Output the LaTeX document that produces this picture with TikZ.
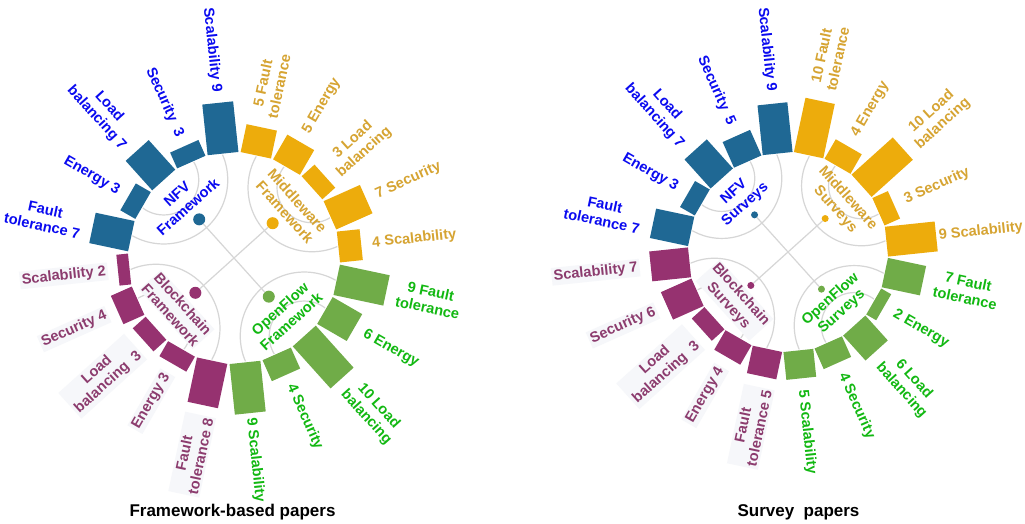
\documentclass[tikz,border=0pt]{standalone}
\usepackage{fontspec}
\setmainfont{Liberation Sans}
\definecolor{nfvbar}{RGB}{31,104,148}
\definecolor{nfvtxt}{RGB}{10,10,240}
\definecolor{mwbar}{RGB}{237,172,12}
\definecolor{mwtxt}{RGB}{214,164,50}
\definecolor{ofbar}{RGB}{112,172,72}
\definecolor{oftxt}{RGB}{18,184,18}
\definecolor{bcbar}{RGB}{150,50,112}
\definecolor{bctxt}{RGB}{140,60,110}
\definecolor{bcbg}{RGB}{246,247,250}
\definecolor{linegray}{RGB}{214,214,214}
\tikzset{
  lbl/.style={font=\bfseries\fontsize{14.6}{16.8}\selectfont, align=center, inner sep=1pt},
  nfvlbl/.style={}, mwlbl/.style={}, oflbl/.style={}, bclbl/.style={fill=bcbg, inner sep=2pt},
  grp/.style={font=\bfseries\fontsize{14.6}{16.8}\selectfont, align=center, inner sep=1pt},
  nfvgrp/.style={}, mwgrp/.style={}, ofgrp/.style={}, bcgrp/.style={fill=bcbg},
  gline/.style={draw=linegray, line width=1.2pt},
  centdot/.style={circle, inner sep=0pt, draw=none},
  captxt/.style={font=\bfseries\fontsize{17}{20}\selectfont, text=black, inner sep=0pt}
}
% #1 gap adjust, #2 name, #3 angle, #4 value, #5 group key, #6 side L/R, #7 text
\newcommand\mybar[7][0]{%
  \pgfmathsetmacro\myrout{\myrin+\myunit*#4+0.5}%
  \pgfmathsetmacro\myrlab{\myrout+\mygap+#1}%
  \fill[#5bar, rotate=#3] (\myrin,-\mybw/2) rectangle (\myrout,\mybw/2);%
  \if#6L%
    \node[lbl, text=#5txt, #5lbl, anchor=east, rotate=#3+180] (#2) at (#3:\myrlab) {#7};%
  \else%
    \node[lbl, text=#5txt, #5lbl, anchor=west, rotate=#3] (#2) at (#3:\myrlab) {#7};%
  \fi}
% #1 name prefix, #2 group key, #3 mid angle, #4 rotation, #5 text
\newcommand\mygroup[5]{%
  \node[centdot, fill=#2bar, minimum size=\mydotsize] (#1-dot) at (#3:\mydotr) {};%
  \node[grp, text=#2txt, #2grp, rotate=#4] (#1-name) at (#3:\mynamer) {#5};}
\begin{document}
\begin{tikzpicture}[x=1pt,y=1pt]
\useasboundingbox (0,0) rectangle (1025,523);
\fill[white] (0,0) rectangle (1025,523);
% ---------------- left chart ----------------
\begin{scope}[shift={(234,265)}]
  \def\myrin{105}\def\myunit{5.6}\def\mybw{31}\def\mygap{10}
  \def\mydotr{52}\def\mynamer{77}\def\mydotsize{12pt}
  \begin{scope}
    \clip (0,0) circle (104pt);
    \foreach \a in {132,222,312,42} {
      \draw[gline] (\a:105) circle (64pt);
      \draw[gline] (\a:105) circle (35pt);
    }
  \end{scope}
  \mybar{L-nfv-1}{96}{9}{nfv}{L}{Scalability 9}
  \mybar{L-nfv-2}{114}{3}{nfv}{L}{Security~~3}
  \mybar{L-nfv-3}{132}{7}{nfv}{L}{Load\\balancing 7}
  \mybar{L-nfv-4}{150}{3}{nfv}{L}{Energy 3}
  \mybar{L-nfv-5}{168}{7}{nfv}{L}{Fault\\tolerance 7}
  \mybar{L-bc-1}{186}{2}{bc}{L}{Scalability 2}
  \mybar{L-bc-2}{204}{4}{bc}{L}{Security 4}
  \mybar{L-bc-3}{222}{3}{bc}{L}{Load\\balancing~~3}
  \mybar{L-bc-4}{240}{3}{bc}{L}{Energy 3}
  \mybar{L-bc-5}{258}{8}{bc}{L}{Fault\\tolerance 8}
  \mybar[-6]{L-of-1}{-84}{9}{of}{R}{9 Scalability}
  \mybar{L-of-2}{-66}{4}{of}{R}{4 Security}
  \mybar{L-of-3}{-48}{10}{of}{R}{10 Load\\balancing}
  \mybar{L-of-4}{-30}{6}{of}{R}{6 Energy}
  \mybar{L-of-5}{-12}{9}{of}{R}{9 Fault\\tolerance}
  \mybar{L-mw-1}{6}{4}{mw}{R}{4 Scalability}
  \mybar{L-mw-2}{24}{7}{mw}{R}{7 Security}
  \mybar{L-mw-3}{42}{3}{mw}{R}{3 Load\\balancing}
  \mybar{L-mw-4}{60}{5}{mw}{R}{5 Energy}
  \mybar{L-mw-5}{78}{5}{mw}{R}{5 Fault\\tolerance}
  \mygroup{L-nfv}{nfv}{132}{42}{NFV\\Framework}
  \mygroup{L-mw}{mw}{42}{-48}{Middleware\\Framework}
  \mygroup{L-bc}{bc}{222}{-48}{Blockchain\\Framework}
  \mygroup{L-of}{of}{312}{42}{OpenFlow\\Framework}
  \draw[gline] (L-nfv-dot) -- (L-of-dot);
  \draw[gline] (L-mw-dot) -- (L-bc-dot);
\end{scope}
% ---------------- right chart ----------------
\begin{scope}[shift={(788,271)}]
  \def\myrin{99}\def\myunit{5.5}\def\mybw{30}\def\mygap{11}
  \def\mydotr{50}\def\mynamer{72}\def\mydotsize{7pt}
  \begin{scope}
    \clip (0,0) circle (98pt);
    \foreach \a in {132,222,312,42} {
      \draw[gline] (\a:99) circle (60pt);
      \draw[gline] (\a:99) circle (33pt);
    }
  \end{scope}
  \mybar{R-nfv-1}{96}{9}{nfv}{L}{Scalability 9}
  \mybar{R-nfv-2}{114}{5}{nfv}{L}{Security~~5}
  \mybar{R-nfv-3}{132}{7}{nfv}{L}{Load\\balancing 7}
  \mybar{R-nfv-4}{150}{3}{nfv}{L}{Energy 3}
  \mybar{R-nfv-5}{168}{7}{nfv}{L}{Fault\\tolerance 7}
  \mybar{R-bc-1}{186}{7}{bc}{L}{Scalability 7}
  \mybar{R-bc-2}{204}{6}{bc}{L}{Security 6}
  \mybar{R-bc-3}{222}{3}{bc}{L}{Load\\balancing~~3}
  \mybar{R-bc-4}{240}{4}{bc}{L}{Energy 4}
  \mybar{R-bc-5}{258}{5}{bc}{L}{Fault\\tolerance 5}
  \mybar{R-of-1}{-84}{5}{of}{R}{5 Scalability}
  \mybar{R-of-2}{-66}{4}{of}{R}{4 Security}
  \mybar{R-of-3}{-48}{6}{of}{R}{6 Load\\balancing}
  \mybar{R-of-4}{-30}{2}{of}{R}{2 Energy}
  \mybar{R-of-5}{-12}{7}{of}{R}{7 Fault\\tolerance}
  \mybar[-9.5]{R-mw-1}{6}{9}{mw}{R}{9 Scalability}
  \mybar{R-mw-2}{24}{3}{mw}{R}{3 Security}
  \mybar{R-mw-3}{42}{10}{mw}{R}{10 Load\\balancing}
  \mybar{R-mw-4}{60}{4}{mw}{R}{4 Energy}
  \mybar{R-mw-5}{78}{10}{mw}{R}{10 Fault\\tolerance}
  \mygroup{R-nfv}{nfv}{132}{42}{NFV\\Surveys}
  \mygroup{R-mw}{mw}{42}{-48}{Middleware\\Surveys}
  \mygroup{R-bc}{bc}{222}{-48}{Blockchain\\Surveys}
  \mygroup{R-of}{of}{312}{42}{OpenFlow\\Surveys}
  \draw[gline] (R-nfv-dot) -- (R-of-dot);
  \draw[gline] (R-mw-dot) -- (R-bc-dot);
\end{scope}
\node[captxt] (cap-left) at (232.5,11) {Framework-based papers};
\node[captxt] (cap-right) at (798.5,11) {Survey~~papers};
\end{tikzpicture}
\end{document}
